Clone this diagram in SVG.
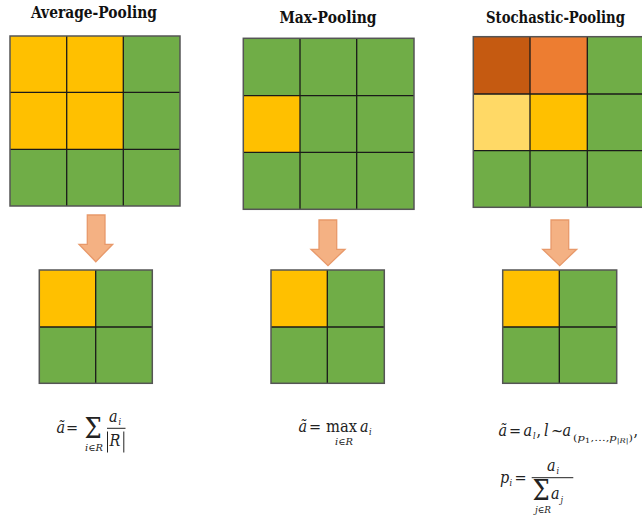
<svg xmlns="http://www.w3.org/2000/svg" width="642" height="518" viewBox="0 0 642 518" font-family="DejaVu Serif Condensed, DejaVu Serif, serif">
<style>
text{font-family:'DejaVu Serif Condensed','DejaVu Serif',serif}
.title{font-weight:bold;font-size:16px;fill:#111;text-anchor:middle}
.f{font-style:italic;font-size:16px;fill:#222}
.u{font-size:16px;fill:#222}
.s{font-style:italic;font-size:9px;fill:#222}
.sg{font-size:27px;fill:#222}
.y{fill:#FFC000}.g{fill:#70AD47}.do{fill:#C55A11}.o{fill:#ED7D31}.ly{fill:#FFD966}
.in{stroke:#1a1a1a;stroke-width:1.3;fill:none}
.out{stroke:#555;stroke-width:1.5;fill:none}
.arr{fill:#F4B183;stroke:#E8996A;stroke-width:1.3}
.bar{stroke:#222;stroke-width:1}
</style>
<rect width="642" height="518" fill="#fff"/>
<g id="avg">
<text class="title" x="94" y="18" textLength="126" lengthAdjust="spacingAndGlyphs">Average-Pooling</text>
<g id="avg-grid">
<rect class="y" x="10" y="36" width="113.3" height="113.3"/>
<rect class="g" x="123.3" y="36" width="56.7" height="170"/>
<rect class="g" x="10" y="149.3" width="113.3" height="56.7"/>
<path class="in" d="M66.7 36V206M123.3 36V206M10 92.3H180M10 149.3H180"/>
<rect class="out" x="10" y="36" width="170" height="170"/>
</g>
<g id="avg-out">
<rect class="g" x="39.3" y="270" width="113" height="113.3"/>
<rect class="y" x="39.3" y="270" width="56.4" height="57"/>
<path class="in" d="M95.7 270V383.3M39.3 327H152.3"/>
<rect class="out" x="39.3" y="270" width="113" height="113.3"/>
</g>
</g>
<g id="max">
<text class="title" x="328" y="23" textLength="97" lengthAdjust="spacingAndGlyphs">Max-Pooling</text>
<g id="max-grid">
<rect class="g" x="243.3" y="38.3" width="170.7" height="171"/>
<rect class="y" x="243.3" y="95.7" width="56.7" height="56.6"/>
<path class="in" d="M300 38.3V209.3M356.7 38.3V209.3M243.3 95.7H414M243.3 152.3H414"/>
<rect class="out" x="243.3" y="38.3" width="170.7" height="171"/>
</g>
<g id="max-out">
<rect class="g" x="271" y="270" width="113.3" height="113.3"/>
<rect class="y" x="271" y="270" width="56.3" height="57"/>
<path class="in" d="M327.3 270V383.3M271 327H384.3"/>
<rect class="out" x="271" y="270" width="113.3" height="113.3"/>
</g>
</g>
<g id="sto">
<text class="title" x="555.5" y="22.7" textLength="139" lengthAdjust="spacingAndGlyphs">Stochastic-Pooling</text>
<g id="sto-grid">
<rect class="g" x="473.3" y="36.7" width="171" height="170.6"/>
<rect class="do" x="473.3" y="36.7" width="56.7" height="57.3"/>
<rect class="o" x="530" y="36.7" width="57.3" height="57.3"/>
<rect class="ly" x="473.3" y="94" width="56.7" height="56.7"/>
<rect class="y" x="530" y="94" width="57.3" height="56.7"/>
<path class="in" d="M530 36.7V207.3M587.3 36.7V207.3M473.3 94H644M473.3 150.7H644"/>
<rect class="out" x="473.3" y="36.7" width="171" height="170.6"/>
</g>
<g id="sto-out">
<rect class="g" x="502.7" y="270" width="114" height="113.3"/>
<rect class="y" x="502.7" y="270" width="56.6" height="57"/>
<path class="in" d="M559.3 270V383.3M502.7 327H616.7"/>
<rect class="out" x="502.7" y="270" width="114" height="113.3"/>
</g>
</g>
<g id="connectors">
<path class="arr" d="M87.3 215H105V244.3H112.7L95.8 261.7L79 244.3H87.3Z"/>
<path class="arr" d="M319 220H336.7V249.3H345L328 265.7L311 249.3H319Z"/>
<path class="arr" d="M551 220H568.7V249.3H576.7L559.7 265.7L542.7 249.3H551Z"/>
</g>
<g id="formula-avg">
<text class="f" x="56.5" y="433">ã</text>
<text class="u" x="66" y="433">=</text>
<text class="sg" x="84.5" y="437.5">Σ</text>
<text class="s" x="85" y="451" textLength="18" lengthAdjust="spacingAndGlyphs">i<tspan font-style="normal">∈</tspan>R</text>
<text class="f" x="109" y="421.5">a</text>
<text class="s" x="118.5" y="424.5">i</text>
<line class="bar" x1="107" y1="428.3" x2="125.5" y2="428.3"/>
<line class="bar" x1="107.5" y1="431.5" x2="107.5" y2="452.5"/>
<line class="bar" x1="123.8" y1="431.5" x2="123.8" y2="452.5"/>
<text class="f" x="109.5" y="446">R</text>
</g>
<g id="formula-max">
<text class="f" x="298.5" y="432">ã</text>
<text class="u" x="309" y="432">=</text>
<text class="u" x="326" y="432" textLength="31" lengthAdjust="spacingAndGlyphs">max</text>
<text class="s" x="335" y="445" textLength="18" lengthAdjust="spacingAndGlyphs">i<tspan font-style="normal">∈</tspan>R</text>
<text class="f" x="360" y="432">a</text>
<text class="s" x="369" y="435">i</text>
</g>
<g id="formula-sto">
<text class="f" x="498.5" y="436">ã</text>
<text class="u" x="509" y="436">=</text>
<text class="f" x="523.5" y="436">a</text>
<text class="s" x="533" y="439">l</text>
<text class="u" x="536.5" y="436">,</text>
<text class="f" x="544" y="436">l</text>
<text class="u" x="551" y="436">~</text>
<text class="f" x="562.5" y="436">a</text>
<text class="s" x="573" y="440.5" font-size="10" textLength="60" lengthAdjust="spacingAndGlyphs"><tspan font-style="normal">(</tspan>p<tspan font-size="7" font-style="normal" dy="2">1</tspan><tspan font-style="normal" dy="-2">,…,</tspan>p<tspan font-size="6.5" dy="2">|R|</tspan><tspan font-style="normal" dy="-2">)</tspan></text>
<text class="u" x="633.5" y="436">,</text>
<text class="f" x="500" y="483">p</text>
<text class="s" x="509.5" y="486">i</text>
<text class="u" x="514.5" y="483">=</text>
<text class="f" x="547" y="470.5">a</text>
<text class="s" x="556.5" y="473.5">i</text>
<line class="bar" x1="531.7" y1="477.7" x2="573.3" y2="477.7"/>
<text class="sg" x="532.5" y="499.5">Σ</text>
<text class="f" x="551" y="499">a</text>
<text class="s" x="560.5" y="502.5">j</text>
<text class="s" x="535" y="513" textLength="16" lengthAdjust="spacingAndGlyphs">j<tspan font-style="normal">∈</tspan>R</text>
</g>
</svg>
